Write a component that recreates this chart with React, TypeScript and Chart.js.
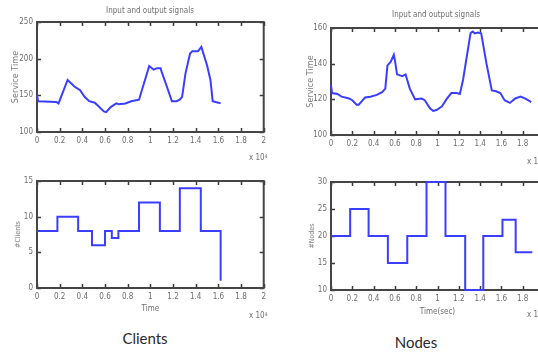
import React, { useEffect, useRef } from "react";
import { Chart, registerables } from "chart.js";

Chart.register(...registerables);

// ---------- DATA ----------
const xTicks = [0, 0.2, 0.4, 0.6, 0.8, 1, 1.2, 1.4, 1.6, 1.8, 2];

// Clients: service time (time in units of 10^4)
const clientTimeX = [0, 0.01, 0.17, 0.19, 0.27, 0.33, 0.38, 0.42, 0.46, 0.51, 0.59, 0.61, 0.65, 0.7, 0.72, 0.78, 0.83, 0.9, 0.99, 1.03, 1.06, 1.09, 1.1, 1.15, 1.19, 1.23, 1.26, 1.28, 1.31, 1.35, 1.37, 1.42, 1.44, 1.45, 1.5, 1.53, 1.55, 1.6, 1.62];
const clientServiceTime = [150, 142, 141, 139, 171, 162, 157, 148, 142, 140, 128, 127, 134, 139, 138, 139, 142, 144, 190, 185, 187, 187, 182, 160, 142, 142, 144, 148, 180, 207, 210, 210, 214, 216, 191, 171, 142, 140, 139];

// Clients: number of clients (step signal)
const clientStepX = [0, 0.18, 0.363, 0.485, 0.6, 0.66, 0.718, 0.9, 1.084, 1.26, 1.445, 1.62];
const clientCount = [8, 10, 8, 6, 8, 7, 8, 12, 8, 14, 8, 1];

// Nodes: service time
const nodeTimeX = [0, 0.01, 0.06, 0.1, 0.17, 0.2, 0.24, 0.26, 0.29, 0.32, 0.37, 0.43, 0.48, 0.51, 0.53, 0.56, 0.59, 0.6, 0.62, 0.67, 0.7, 0.74, 0.79, 0.85, 0.88, 0.93, 0.96, 0.99, 1.04, 1.09, 1.13, 1.18, 1.21, 1.24, 1.31, 1.33, 1.35, 1.38, 1.41, 1.46, 1.51, 1.55, 1.59, 1.63, 1.68, 1.73, 1.78, 1.82, 1.85, 1.88];
const nodeServiceTime = [128, 123.5, 123, 121.5, 120.5, 119.5, 117, 117, 119, 121, 121.5, 122.5, 124, 126, 139, 141, 145, 142, 134, 133, 134, 126, 120, 120.5, 119.5, 115, 113.5, 114, 116, 120.5, 123.5, 123.5, 123, 131, 157, 158, 157, 157.5, 157, 140, 125, 124.5, 123.5, 119.5, 118, 120.5, 121.5, 120.5, 119.5, 118.5];

// Nodes: number of nodes (step signal)
const nodeStepX = [0, 0.18, 0.353, 0.534, 0.716, 0.897, 1.075, 1.26, 1.43, 1.61, 1.734, 1.89];
const nodeCount = [20, 25, 20, 15, 20, 30, 20, 10, 20, 23, 17, 17];

const clientTimeTicks = [100, 150, 200, 250];
const clientCountTicks = [0, 5, 10, 15];
const nodeTimeTicks = [100, 120, 140, 160];
const nodeCountTicks = [10, 15, 20, 25, 30];

// ---------- STYLE ----------
const NARROW = '"Liberation Sans Narrow", "DejaVu Sans Condensed", "Liberation Sans", Arial, sans-serif';
const LINE_COLOR = "rgb(58,62,255)";
const TEXT_COLOR = "#6e6e6e";

const boxPlugin = {
  id: "matBox",
  beforeDraw(chart: any) {
    const { ctx, chartArea: a, scales } = chart;
    const L = 4;
    ctx.save();
    ctx.strokeStyle = "#3a3a3a";
    ctx.lineWidth = 1.5;
    ctx.beginPath();
    scales.x.ticks.forEach((t: any) => {
      const px = Math.round(scales.x.getPixelForValue(t.value)) + 0.5;
      ctx.moveTo(px, a.bottom);
      ctx.lineTo(px, a.bottom - L);
      ctx.moveTo(px, a.top);
      ctx.lineTo(px, a.top + L);
    });
    scales.y.ticks.forEach((t: any) => {
      const py = Math.round(scales.y.getPixelForValue(t.value)) + 0.5;
      ctx.moveTo(a.left, py);
      ctx.lineTo(a.left + L, py);
      ctx.moveTo(a.right, py);
      ctx.lineTo(a.right - L, py);
    });
    ctx.stroke();
    ctx.lineWidth = 2;
    ctx.strokeStyle = "#454545";
    ctx.strokeRect(a.left, a.top, a.right - a.left, a.bottom - a.top);
    ctx.restore();
  },
};

type PlotProps = {
  left: number;
  top: number;
  width: number;
  height: number;
  yWidth: number;
  xHeight: number;
  padTop: number;
  padRight: number;
  xs: number[];
  ys: number[];
  yTicks: number[];
  stepped: boolean;
  yTitle: string;
  yTitleSize: number;
  yTitlePad: number;
  xTitle?: string;
  xTitlePad?: number;
};

function MatPlot(p: PlotProps) {
  const ref = useRef<HTMLCanvasElement | null>(null);
  useEffect(() => {
    if (!ref.current) return;
    const yMin = p.yTicks[0];
    const yMax = p.yTicks[p.yTicks.length - 1];
    const chart = new Chart(ref.current, {
      type: "line",
      data: {
        datasets: [
          {
            data: p.xs.map((x, i) => ({ x, y: p.ys[i] })),
            borderColor: LINE_COLOR,
            borderWidth: 2,
            pointRadius: 0,
            tension: 0,
            fill: false,
            clip: false,
            stepped: p.stepped ? "before" : false,
          } as any,
        ],
      },
      options: {
        responsive: false,
        animation: false,
        devicePixelRatio: 1,
        layout: { padding: { top: p.padTop, right: p.padRight, left: 0, bottom: 0 } },
        plugins: { legend: { display: false }, tooltip: { enabled: false }, title: { display: false } },
        scales: {
          x: {
            type: "linear",
            min: 0,
            max: 2,
            afterBuildTicks: (s: any) => {
              s.ticks = xTicks.map((v) => ({ value: v }));
            },
            afterFit: (s: any) => {
              s.height = p.xHeight;
            },
            grid: { display: false, drawTicks: false },
            border: { display: false },
            ticks: {
              autoSkip: false,
              maxRotation: 0,
              padding: 4,
              color: TEXT_COLOR,
              font: { family: NARROW, size: 8 },
              callback: (v: any) => String(Number(Number(v).toFixed(1))),
            },
            title: p.xTitle
              ? {
                  display: true,
                  text: p.xTitle,
                  color: TEXT_COLOR,
                  font: { family: NARROW, size: 8 },
                  padding: { top: 0, bottom: p.xTitlePad ?? 6 },
                }
              : { display: false },
          },
          y: {
            type: "linear",
            min: yMin,
            max: yMax,
            afterBuildTicks: (s: any) => {
              s.ticks = p.yTicks.map((v) => ({ value: v }));
            },
            afterFit: (s: any) => {
              s.width = p.yWidth;
            },
            grid: { display: false, drawTicks: false },
            border: { display: false },
            ticks: {
              padding: 4,
              color: TEXT_COLOR,
              font: { family: NARROW, size: 8 },
            },
            title: {
              display: true,
              text: p.yTitle,
              color: "#808080",
              font: { family: NARROW, size: p.yTitleSize },
              padding: { top: p.yTitlePad, bottom: 0 },
            },
          },
        },
      } as any,
      plugins: [boxPlugin],
    });
    return () => chart.destroy();
  }, []);
  return (
    <canvas
      ref={ref}
      width={p.width}
      height={p.height}
      style={{ position: "absolute", left: p.left, top: p.top, width: p.width, height: p.height }}
    />
  );
}

const smallText: React.CSSProperties = {
  position: "absolute",
  fontFamily: NARROW,
  fontSize: 8,
  color: TEXT_COLOR,
  whiteSpace: "nowrap",
  lineHeight: "10px",
};

function Times10({ left, top }: { left: number; top: number }) {
  return (
    <div style={{ ...smallText, left, top }}>
      x 10<sup style={{ fontSize: 5, verticalAlign: "top", lineHeight: "6px" }}>4</sup>
    </div>
  );
}

const captionStyle: React.CSSProperties = {
  position: "absolute",
  width: 100,
  textAlign: "center",
  fontFamily: "Lato, 'Open Sans', sans-serif",
  fontSize: 15,
  lineHeight: "20px",
  color: "#2a2a2a",
};

export default function App() {
  return (
    <div
      style={{
        position: "fixed",
        left: 0,
        top: 0,
        width: 538,
        height: 356,
        overflow: "hidden",
        background: "#ffffff",
      }}
    >
      <MatPlot
        left={0}
        top={0}
        width={270}
        height={150}
        yWidth={37}
        xHeight={18}
        padTop={22}
        padRight={4}
        xs={clientTimeX}
        ys={clientServiceTime}
        yTicks={clientTimeTicks}
        stepped={false}
        yTitle="Service Time"
        yTitleSize={9}
        yTitlePad={10}
      />
      <MatPlot
        left={0}
        top={160}
        width={270}
        height={160}
        yWidth={37}
        xHeight={32}
        padTop={21}
        padRight={4}
        xs={clientStepX}
        ys={clientCount}
        yTicks={clientCountTicks}
        stepped={true}
        yTitle="#Clients"
        yTitleSize={7}
        yTitlePad={14}
        xTitle="Time"
        xTitlePad={6}
      />
      <MatPlot
        left={270}
        top={0}
        width={290}
        height={150}
        yWidth={61}
        xHeight={15}
        padTop={28}
        padRight={16}
        xs={nodeTimeX}
        ys={nodeServiceTime}
        yTicks={nodeTimeTicks}
        stepped={false}
        yTitle="Service Time"
        yTitleSize={9}
        yTitlePad={35}
      />
      <MatPlot
        left={270}
        top={160}
        width={290}
        height={165}
        yWidth={61}
        xHeight={35}
        padTop={22}
        padRight={16}
        xs={nodeStepX}
        ys={nodeCount}
        yTicks={nodeCountTicks}
        stepped={true}
        yTitle="#Nodes"
        yTitleSize={7}
        yTitlePad={38}
        xTitle="Time(sec)"
        xTitlePad={8}
      />

      <div style={{ ...smallText, left: 100, top: 6, width: 100, textAlign: "center" }}>Input and output signals</div>
      <div style={{ ...smallText, left: 386, top: 10, width: 100, textAlign: "center" }}>Input and output signals</div>

      <Times10 left={249} top={153} />
      <Times10 left={249} top={311} />
      <Times10 left={527} top={157} />
      <Times10 left={527} top={310} />

      <div style={{ ...captionStyle, left: 95, top: 328 }}>Clients</div>
      <div style={{ ...captionStyle, left: 366, top: 332 }}>Nodes</div>
    </div>
  );
}
